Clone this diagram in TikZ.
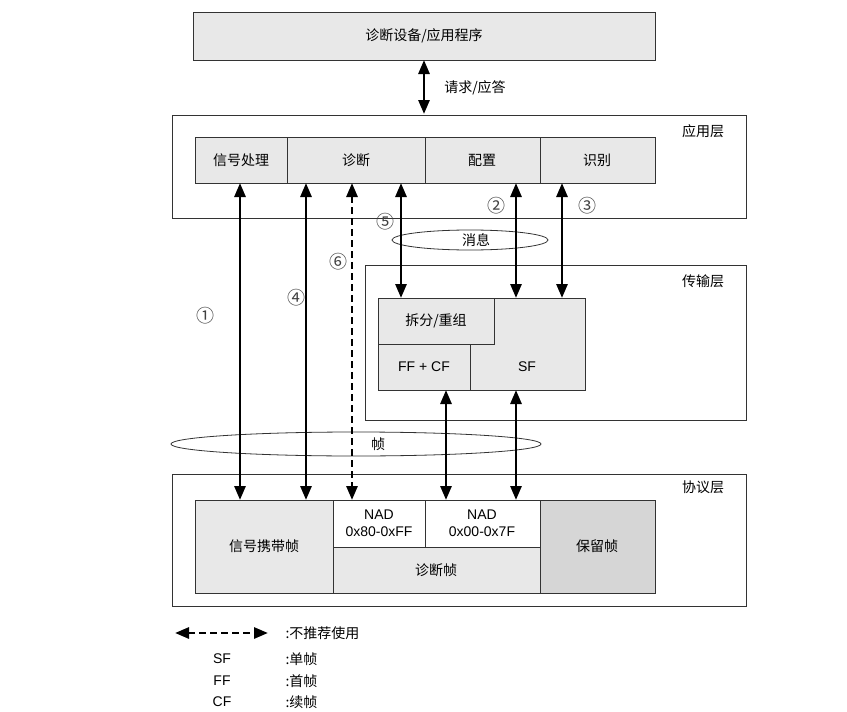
\documentclass[tikz,border=0pt]{standalone}
\usepackage{fontspec}
\setmainfont{Liberation Sans}
\newfontfamily\cjk{Noto Sans CJK SC}
\usetikzlibrary{arrows.meta}
\begin{document}
\begin{tikzpicture}[x=1pt,y=-1pt,
  every node/.style={font=\cjk\fontsize{14}{16}\selectfont},
  lat/.style={font=\fontsize{14}{17}\selectfont},
  box/.style={draw=black!80,line width=0.9pt},
  gbox/.style={box,fill=black!9},
  dbl/.style={line width=2.8pt,{Triangle[length=14pt,width=11pt]}-{Triangle[length=14pt,width=11pt]}},
  dsh/.style={dbl,dashed,dash pattern=on 7pt off 4pt},
  ell/.style={draw=black!80,line width=0.8pt}]
\useasboundingbox (0,0) rectangle (847,712);
% top
\draw[gbox] (193,12) rectangle (655,60);
\node (top) at (424,36) {诊断设备/应用程序};
\coordinate (topb) at (424,60);
\coordinate (appt) at (424,114);
\draw[dbl] (topb) -- (appt);
\node (req) at (475,88) {请求/应答};
% app layer
\draw[box] (172,115) rectangle (746,218);
\node (applbl) at (703,131) {应用层};
\draw[gbox] (195,137) rectangle (287,183);
\draw[gbox] (287,137) rectangle (425,183);
\draw[gbox] (425,137) rectangle (540,183);
\draw[gbox] (540,137) rectangle (655,183);
\node (sig) at (241,160) {信号处理};
\node (diag) at (356,160) {诊断};
\node (cfg) at (482,160) {配置};
\node (id) at (597,160) {识别};
% transport
\draw[box] (365,265) rectangle (746,420);
\node (trlbl) at (703,281) {传输层};
\draw[gbox] (378,298) rectangle (585,390);
\draw[gbox] (378,298) rectangle (494,344);
\draw[gbox] (378,344) rectangle (470,390);
\node (seg) at (436,321) {拆分/重组};
\node[lat] (ffcf) at (424,367) {FF + CF};
\node[lat] (sf) at (527,367) {SF};
% protocol
\draw[box] (172,474) rectangle (746,606);
\node (prlbl) at (703,487) {协议层};
\draw[gbox] (195,500) rectangle (333,593);
\draw[box,fill=white] (333,500) rectangle (425,547);
\draw[box,fill=white] (425,500) rectangle (540,547);
\draw[gbox] (333,547) rectangle (540,593);
\draw[box,fill=black!16] (540,500) rectangle (655,593);
\node (sigf) at (264,546) {信号携带帧};
\node[lat,align=center] (nad1) at (379,523) {NAD\\0x80-0xFF};
\node[lat,align=center] (nad2) at (482,523) {NAD\\0x00-0x7F};
\node (diagf) at (436,570) {诊断帧};
\node (resf) at (597,546) {保留帧};
% ellipses
\draw[ell] (470,240) ellipse (78 and 10);
\node (msg) at (476,240) {消息};
\draw[ell] (356,444) ellipse (185 and 12);
\node (frm) at (378,444) {帧};
% arrows
\coordinate (a1t) at (240,183); \coordinate (a1b) at (240,500);
\coordinate (a4t) at (306,183); \coordinate (a4b) at (306,500);
\coordinate (a6t) at (352,183); \coordinate (a6b) at (352,500);
\coordinate (a5t) at (401,183); \coordinate (a5b) at (401,298);
\coordinate (a2t) at (516,183); \coordinate (a2b) at (516,298);
\coordinate (a3t) at (562,183); \coordinate (a3b) at (562,298);
\coordinate (b1t) at (446,390); \coordinate (b1b) at (446,500);
\coordinate (b2t) at (516,390); \coordinate (b2b) at (516,500);
\draw[dbl] (a1t) -- (a1b);
\draw[dbl] (a4t) -- (a4b);
\draw[dsh] (a6t) -- (a6b);
\draw[dbl] (a5t) -- (a5b);
\draw[dbl] (a2t) -- (a2b);
\draw[dbl] (a3t) -- (a3b);
\draw[dbl] (b1t) -- (b1b);
\draw[dbl] (b2t) -- (b2b);
\begin{scope}[every node/.style={font=\cjk\fontsize{18}{18}\selectfont,text=black!75}]
\node (n1) at (205,316) {①};
\node (n4) at (296,298) {④};
\node (n6) at (338,262) {⑥};
\node (n5) at (385,222) {⑤};
\node (n2) at (496,206) {②};
\node (n3) at (587,206) {③};
\end{scope}
% legend
\coordinate (l1) at (175,633); \coordinate (l2) at (268,633);
\draw[dsh] (l1) -- (l2);
\node[anchor=west] (lg0) at (282,633) {:不推荐使用};
\node[lat] (sfl) at (222,659) {SF}; \node[anchor=west] (lg1) at (282,659) {:单帧};
\node[lat] (ffl) at (222,681) {FF}; \node[anchor=west] (lg2) at (282,681) {:首帧};
\node[lat] (cfl) at (222,702) {CF}; \node[anchor=west] (lg3) at (282,702) {:续帧};
\end{tikzpicture}
\end{document}
